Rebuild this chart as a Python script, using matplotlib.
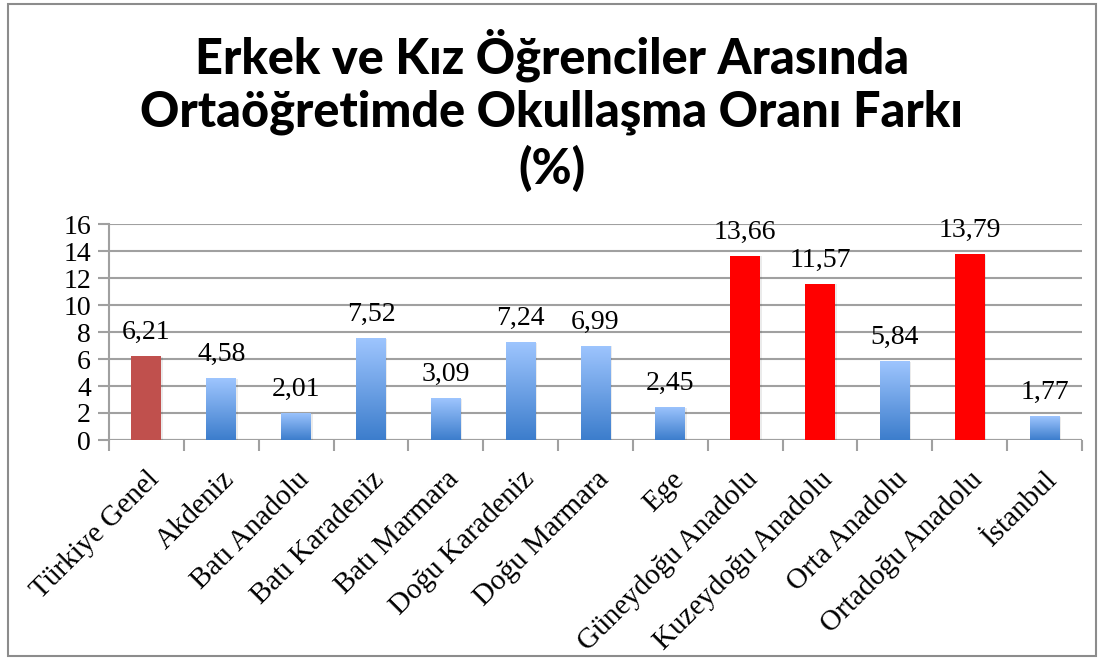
import matplotlib
matplotlib.use("Agg")
import matplotlib.pyplot as plt
import numpy as np
from matplotlib.colors import LinearSegmentedColormap
from matplotlib.patches import Rectangle

categories = ["Türkiye Genel", "Akdeniz", "Batı Anadolu", "Batı Karadeniz", "Batı Marmara",
              "Doğu Karadeniz", "Doğu Marmara", "Ege", "Güneydoğu Anadolu", "Kuzeydoğu Anadolu",
              "Orta Anadolu", "Ortadoğu Anadolu", "İstanbul"]
values = [6.21, 4.58, 2.01, 7.52, 3.09, 7.24, 6.99, 2.45, 13.66, 11.57, 5.84, 13.79, 1.77]
labels = ["6,21", "4,58", "2,01", "7,52", "3,09", "7,24", "6,99", "2,45", "13,66", "11,57", "5,84", "13,79", "1,77"]
bar_kind = ["genel", "blue", "blue", "blue", "blue", "blue", "blue", "blue", "red", "red", "blue", "red", "blue"]
yticks = [0, 2, 4, 6, 8, 10, 12, 14, 16]

fig = plt.figure(figsize=(11.04, 6.59), dpi=100)
fig.patch.set_facecolor("white")
fig.add_artist(Rectangle((8/1104, 3/659), 1088/1104, 652/659, transform=fig.transFigure,
                         fill=False, edgecolor="#8c8c8c", linewidth=1.5))

ax = fig.add_axes([109/1104, 1 - 440/659, (1082-109)/1104, (440-224)/659])
n = len(categories)
x = np.arange(n)
width = 0.4

ax.set_xlim(-0.5, n - 0.5)
ax.set_ylim(0, 16)
ax.set_yticks(yticks)
ax.set_yticklabels([str(t) for t in yticks], fontfamily="Liberation Serif", fontsize=20)
ax.yaxis.grid(True, color="#a0a0a0", linewidth=1.5)
ax.set_axisbelow(True)
for s in ["top", "right", "bottom"]:
    ax.spines[s].set_visible(False)
ax.spines["left"].set_color("#a0a0a0")
ax.spines["left"].set_linewidth(1.5)
ax.tick_params(axis="y", length=8, color="#a0a0a0", width=1.5, pad=5)
ax.axhline(0, color="#a0a0a0", linewidth=1.5, zorder=1)

ax.set_xticks(np.arange(-0.5, n, 1.0))
ax.set_xticklabels([])
ax.tick_params(axis="x", length=8, color="#a0a0a0", width=1.5)
for i, c in enumerate(categories):
    ax.annotate(c, xy=(x[i], 0), xycoords="data", xytext=(0, -19), textcoords="offset points",
                rotation=45, ha="right", va="top", rotation_mode="anchor",
                fontfamily="Liberation Serif", fontsize=21)

cmap = LinearSegmentedColormap.from_list("b", ["#3c7dcc", "#9ec5fe"])
grad = np.linspace(0, 1, 256).reshape(-1, 1)
for i, (v, k) in enumerate(zip(values, bar_kind)):
    ax.add_patch(Rectangle((x[i] - width/2 + 0.02, 0), width, v - 0.05, facecolor="#000000",
                           alpha=0.08, edgecolor="none", zorder=2))
    if k == "blue":
        r = Rectangle((x[i] - width/2, 0), width, v, facecolor="none", edgecolor="none", zorder=3)
        ax.add_patch(r)
        im = ax.imshow(grad, extent=(x[i] - width/2, x[i] + width/2, 0, v), origin="lower",
                       cmap=cmap, aspect="auto", zorder=3)
        im.set_clip_path(r)
    else:
        col = "#c0504d" if k == "genel" else "#ff0000"
        ax.add_patch(Rectangle((x[i] - width/2, 0), width, v, facecolor=col, edgecolor="none", zorder=3))
    ax.annotate(labels[i], xy=(x[i], v), xytext=(0, 8), textcoords="offset points",
                ha="center", va="bottom", fontfamily="Liberation Serif", fontsize=20)
ax.set_xlim(-0.5, n - 0.5)
ax.set_ylim(0, 16)

title_lines = ["Erkek ve Kız Öğrenciler Arasında", "Ortaöğretimde Okullaşma Oranı Farkı", "(%)"]
title_y = [55, 112, 168]
for t, yy in zip(title_lines, title_y):
    fig.text(0.5, 1 - yy/659, t, ha="center", va="center",
             fontfamily="Lato", fontweight="black", fontsize=35)

fig.savefig("out.png", dpi=100, facecolor="white")
